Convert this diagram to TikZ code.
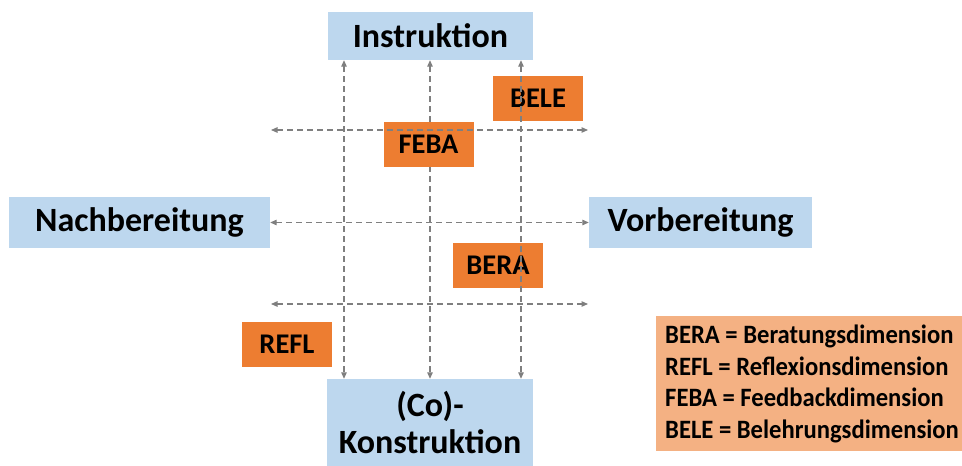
\documentclass[tikz,border=0pt]{standalone}
\usepackage{fontspec}
\setmainfont{Carlito}
\newfontfamily\legendfont{Carlito}[FakeStretch=0.93]
\usetikzlibrary{arrows.meta}
\definecolor{phase}{HTML}{BDD7EE}
\definecolor{dim}{HTML}{ED7D31}
\definecolor{legendbg}{HTML}{F4B183}
\definecolor{axis}{HTML}{7F7F7F}
\begin{document}
\begin{tikzpicture}[x=1pt,y=-1pt,
  phasebox/.style={fill=phase, inner sep=0pt, align=center,
    font=\fontsize{34}{37}\selectfont\bfseries},
  dimbox/.style={fill=dim, minimum width=90pt, minimum height=45pt, inner sep=0pt,
    font=\fontsize{28.5}{30}\selectfont\bfseries},
  conn/.style={draw=axis, line width=1.2pt, dash pattern=on 6pt off 4pt,
    {Triangle[length=6.5pt,width=5.5pt]}-{Triangle[length=6.5pt,width=5.5pt]}},
]
\useasboundingbox (0,0) rectangle (962,466);

% phase boxes
\node[phasebox, minimum width=205pt, minimum height=48pt] (instr) at (430.5,36) {Instruktion};
\node[phasebox, minimum width=206pt, minimum height=87pt] (konst) at (430,422.5) {(Co)-\\Konstruktion};
\node[phasebox, minimum width=261pt, minimum height=51pt] (nach) at (139.5,222.5) {Nachbereitung};
\node[phasebox, minimum width=223pt, minimum height=51pt] (vor) at (700.5,222.5) {Vorbereitung};

% positions of the vertical axes and the free ends of the outer horizontal axes
\coordinate (v1) at (344,0);
\coordinate (v2) at (430,0);
\coordinate (v3) at (521,0);
\coordinate (h1l) at (271,130);
\coordinate (h1r) at (588,130);
\coordinate (h3l) at (271,304);
\coordinate (h3r) at (588,304);

% middle vertical axis lies beneath FEBA
\draw[conn] (instr.south -| v2) -- (konst.north -| v2);

% dimension boxes
\node[dimbox] (bele) at (538,98.5) {BELE};
\node[dimbox] (feba) at (428.5,144.5) {FEBA};
\node[dimbox] (bera) at (498,265) {BERA};
\node[dimbox] (refl) at (287,344) {REFL};

% remaining axes drawn over the boxes
\draw[conn] (instr.south -| v1) -- (konst.north -| v1);
\draw[conn] (instr.south -| v3) -- (konst.north -| v3);
\draw[conn] (h1l) -- (h1r);
\draw[conn] (nach.east) -- (vor.west);
\draw[conn] (h3l) -- (h3r);

% legend
\node[fill=legendbg, minimum width=306pt, minimum height=135pt, inner sep=0pt] (legend) at (809,383.5) {};
\node[anchor=west, align=left, inner sep=0pt,
  font=\legendfont\fontsize{26.5}{31.5}\selectfont\bfseries] (legendtext) at (665,384)
  {BERA = Beratungsdimension\\REFL = Reflexionsdimension\\FEBA = Feedbackdimension\\BELE = Belehrungsdimension};
\end{tikzpicture}
\end{document}
